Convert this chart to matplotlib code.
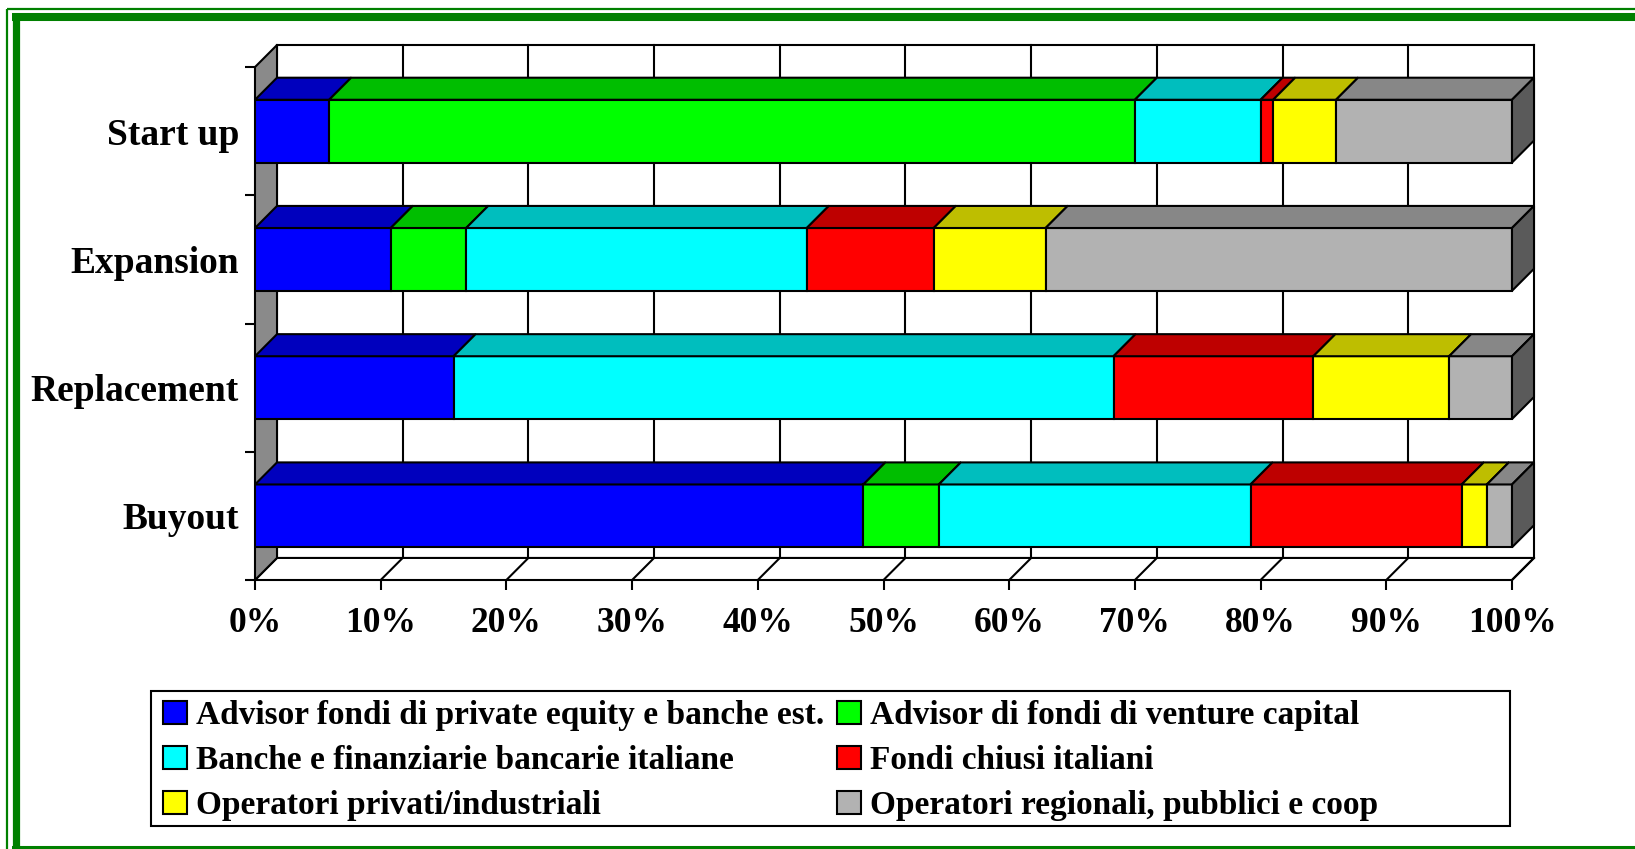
import numpy as np
import matplotlib
matplotlib.use("Agg")
from matplotlib import pyplot as plt
from matplotlib.patches import Polygon, Rectangle, Patch
from matplotlib.lines import Line2D

plt.rcParams["font.family"] = ["Liberation Serif", "DejaVu Serif"]
plt.rcParams["font.weight"] = "bold"

# categorie dal basso verso l'alto
categories = ["Buyout", "Replacement", "Expansion", "Start up"]

series_names = [
    "Advisor fondi di private equity e banche est.",
    "Advisor di fondi di venture capital",
    "Banche e finanziarie bancarie italiane",
    "Fondi chiusi italiani",
    "Operatori privati/industriali",
    "Operatori regionali, pubblici e coop",
]

# quote in %
advisor_pe = [48.4, 15.8, 10.8, 5.9]
advisor_vc = [6.0, 0.0, 6.0, 64.1]
banche = [24.8, 52.5, 27.1, 10.0]
fondi_chiusi = [16.8, 15.9, 10.1, 1.0]
privati = [2.0, 10.8, 8.9, 5.0]
regionali = [2.0, 5.0, 37.1, 14.0]

x_ticks = [0, 10, 20, 30, 40, 50, 60, 70, 80, 90, 100]
x_labels = ["0%", "10%", "20%", "30%", "40%", "50%", "60%", "70%", "80%", "90%", "100%"]

front_colors = ["#0000ff", "#00ff00", "#00ffff", "#ff0000", "#ffff00", "#b2b2b2"]
top_colors = ["#0000be", "#00be00", "#00bebe", "#be0000", "#bebe00", "#878787"]
side_color = "#5a5a5a"
wall_color = "#8a8a8a"
green = "#008000"

series = [advisor_pe, advisor_vc, banche, fondi_chiusi, privati, regionali]

W, H = 1635, 849
fig = plt.figure(figsize=(W / 100, H / 100), dpi=100)

# cornice verde (tagliata a destra e in basso)
def fline(xs, ys, lw, color):
    fig.add_artist(Line2D([x / W for x in xs], [1 - y / H for y in ys],
                          lw=lw, color=color, solid_capstyle="butt"))

fline([7, W + 10], [9, 9], 1.6, green)
fline([7, 7], [9, H + 10], 1.6, green)
fline([12, W + 10], [17, 17], 5.8, green)
fline([15.5, 15.5], [13, H + 10], 5.2, green)
fline([12, W + 10], [850, 850], 5.8, green)

ax = fig.add_axes([255 / W, 1 - 580 / H, (1534 - 255) / W, (580 - 45) / H])
DX, DY = 1.75, 0.172
ax.set_xlim(0, 100 + DX)
ax.set_ylim(0, len(categories) + DY)
for s in ax.spines.values():
    s.set_visible(False)
ax.set_facecolor("none")

lw = 1.5
top = len(categories)

# parete di fondo
for xv in x_ticks:
    ax.plot([xv + DX, xv + DX], [DY, top + DY], color="k", lw=lw, zorder=1, clip_on=False)
ax.plot([DX, 100 + DX], [top + DY, top + DY], color="k", lw=lw, zorder=1, clip_on=False)

# pavimento
ax.add_patch(Polygon([(0, 0), (100, 0), (100 + DX, DY), (DX, DY)], closed=True,
                     fc="white", ec="k", lw=lw, zorder=1, clip_on=False))
for xv in x_ticks[1:]:
    ax.plot([xv, xv + DX], [0, DY], color="k", lw=lw, zorder=1, clip_on=False)

# parete sinistra
ax.add_patch(Polygon([(0, 0), (DX, DY), (DX, top + DY), (0, top)], closed=True,
                     fc=wall_color, ec="k", lw=lw, zorder=1, clip_on=False))

# barre 3D
bar_h = 0.49
ypos = np.arange(len(categories)) + 0.5
left = np.zeros(len(categories))
for j, vals in enumerate(series):
    vals = np.array(vals)
    mask = vals > 0
    ax.barh(ypos[mask], vals[mask], height=bar_h, left=left[mask], color=front_colors[j],
            edgecolor="k", linewidth=lw, zorder=3)
    for i in np.where(mask)[0]:
        y1 = ypos[i] + bar_h / 2
        l, r = left[i], left[i] + vals[i]
        ax.add_patch(Polygon([(l, y1), (r, y1), (r + DX, y1 + DY), (l + DX, y1 + DY)], closed=True,
                             fc=top_colors[j], ec="k", lw=lw, zorder=3, clip_on=False))
    left = left + vals

for i in range(len(categories)):
    y0, y1 = ypos[i] - bar_h / 2, ypos[i] + bar_h / 2
    r = left[i]
    ax.add_patch(Polygon([(r, y0), (r + DX, y0 + DY), (r + DX, y1 + DY), (r, y1)], closed=True,
                         fc=side_color, ec="k", lw=lw, zorder=3, clip_on=False))

# assi
ax.set_xticks(x_ticks, labels=x_labels)
ax.tick_params(axis="x", direction="out", length=7.2, width=lw, pad=12, labelsize=25.5)
ax.set_yticks(range(top + 1))
ax.set_yticklabels([])
ax.set_yticks(ypos, labels=categories, minor=True)
ax.tick_params(axis="y", which="major", direction="out", length=7.2, width=lw)
ax.tick_params(axis="y", which="minor", length=0, pad=11.5, labelsize=27)

# legenda
handles = [Patch(fc=c, ec="k", lw=lw) for c in front_colors]
order = [0, 2, 4, 1, 3, 5]
fig.legend([handles[k] for k in order], [series_names[k] for k in order], ncol=2,
           loc="upper left", bbox_to_anchor=(163 / W, 1 - 700 / H), frameon=False,
           fontsize=24, handlelength=0.72, handleheight=0.66, handletextpad=0.27,
           columnspacing=0.39, labelspacing=0.42, borderpad=0, borderaxespad=0)
fig.add_artist(Rectangle((151 / W, 1 - 826 / H), (1510 - 151) / W, (826 - 691) / H,
                         fill=False, ec="k", lw=lw, transform=fig.transFigure))

fig.savefig("out.png", dpi=100)
